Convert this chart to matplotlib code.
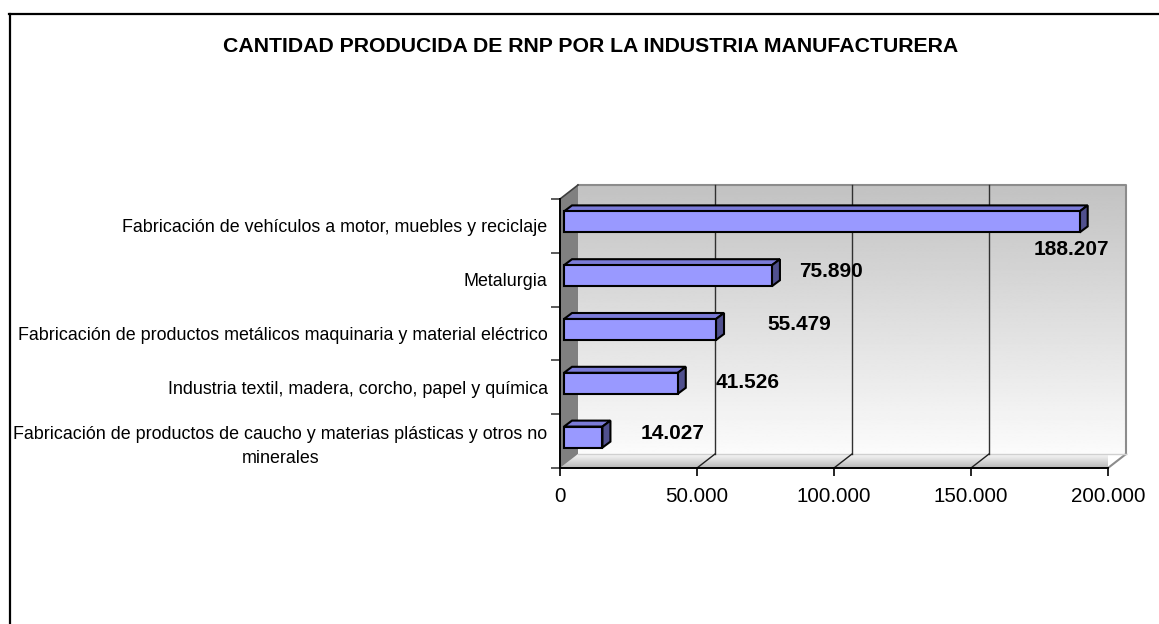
import numpy as np
import matplotlib
matplotlib.use("Agg")
import matplotlib.pyplot as plt
from matplotlib.patches import Polygon, Rectangle
from matplotlib.lines import Line2D

plt.rcParams['font.family'] = ['Liberation Sans', 'DejaVu Sans']

# data
categories = [
    'Fabricación de vehículos a motor, muebles y reciclaje',
    'Metalurgia',
    'Fabricación de productos metálicos maquinaria y material eléctrico',
    'Industria textil, madera, corcho, papel y química',
    'Fabricación de productos de caucho y materias plásticas y otros no\nminerales',
]
values = [188207, 75890, 55479, 41526, 14027]
x_ticks = [0, 50000, 100000, 150000, 200000]
title = 'CANTIDAD PRODUCIDA DE RNP POR LA INDUSTRIA MANUFACTURERA'

# label offsets in pixels (dx, dy up) from the bar end
label_offsets = [(-4, -24), (63, 8), (87, 9), (74, 5), (74, 8)]


def fmt(v):
    return f"{v:,}".replace(',', '.')


W, H, DPI = 1159, 624, 100
fig = plt.figure(figsize=(W / DPI, H / DPI), dpi=DPI)

# front plane of the 3d box, in pixels
left_px, right_px, top_px, bot_px = 560, 1108, 199, 468
ax = fig.add_axes([left_px / W, 1 - bot_px / H,
                   (right_px - left_px) / W, (bot_px - top_px) / H])
XMAX = x_ticks[-1]
n = len(categories)

# pixel -> data conversion
px_x = XMAX / (right_px - left_px)
px_y = n / (bot_px - top_px)
DX, DY = 18 * px_x, 14 * px_y

# back wall, dark at top, light at bottom
wall = np.linspace(0.985, 0.76, 200).reshape(-1, 1)
ax.imshow(wall, extent=(DX, XMAX + DX, DY, n + DY), cmap='gray', vmin=0, vmax=1,
          aspect='auto', origin='lower', clip_on=False, zorder=0, interpolation='bilinear')

# floor
floor = Polygon([(0, 0), (XMAX, 0), (XMAX + DX, DY), (DX, DY)], closed=True,
                facecolor='none', edgecolor='none', clip_on=False)
ax.add_patch(floor)
fgrad = np.linspace(0.72, 0.97, 50).reshape(-1, 1)
fim = ax.imshow(fgrad, extent=(0, XMAX + DX, 0, DY), cmap='gray', vmin=0, vmax=1,
                aspect='auto', origin='lower', zorder=0.5, interpolation='bilinear')
fim.set_clip_path(floor)

ax.set_xlim(0, XMAX)
ax.set_ylim(0, n)

# left wall
ax.add_patch(Polygon([(0, 0), (DX, DY), (DX, n + DY), (0, n)], closed=True,
                     facecolor='#808080', edgecolor='none', clip_on=False, zorder=0.6))

# box edges
edge = dict(color='#8c8c8c', lw=1.5, clip_on=False, zorder=1)
ax.plot([DX, XMAX + DX, XMAX + DX], [n + DY, n + DY, DY], **edge)
ax.plot([XMAX, XMAX + DX], [0, DY], **edge)
ax.plot([0, DX], [n, n + DY], color='#404040', lw=1.2, clip_on=False, zorder=1)
ax.plot([DX, XMAX + DX], [DY, DY], color='#d0d0d0', lw=1, clip_on=False, zorder=1)

# gridlines on wall and floor
for t in x_ticks[1:-1]:
    ax.plot([t + DX, t + DX], [DY, n + DY], color='#303030', lw=1, clip_on=False, zorder=1)
    ax.plot([t, t + DX], [0, DY], color='#202020', lw=1, clip_on=False, zorder=1)

# bars
bh = 21 * px_y
bx, by = 4 * px_x, 4 * px_y
tdx, tdy = 8 * px_x, 6 * px_y
for i, v in enumerate(values):
    yc = n - 0.5 - i
    y0 = yc - bh / 2 + by
    y1 = y0 + bh
    x0, x1 = bx, bx + v
    ax.add_patch(Polygon([(x0, y1), (x1, y1), (x1 + tdx, y1 + tdy), (x0 + tdx, y1 + tdy)],
                         closed=True, facecolor='#7b7bd8', edgecolor='black', lw=1.5,
                         clip_on=False, zorder=3, joinstyle='miter'))
    ax.add_patch(Polygon([(x1, y0), (x1, y1), (x1 + tdx, y1 + tdy), (x1 + tdx, y0 + tdy)],
                         closed=True, facecolor='#50508e', edgecolor='black', lw=1.5,
                         clip_on=False, zorder=3, joinstyle='miter'))
    ax.add_patch(Rectangle((x0, y0), v, bh, facecolor='#9999ff', edgecolor='black',
                           lw=1.5, clip_on=False, zorder=4, joinstyle='miter'))
    odx, ody = label_offsets[i]
    ax.annotate(fmt(v), xy=(v, yc), xytext=(odx, ody), textcoords='offset pixels',
                ha='center', va='center', fontsize=15, fontweight='bold', zorder=5)

# axes
for s in ['top', 'right']:
    ax.spines[s].set_visible(False)
for s in ['bottom', 'left']:
    ax.spines[s].set_color('black')
    ax.spines[s].set_linewidth(1.4)
    ax.spines[s].set_zorder(2)
ax.set_xticks(x_ticks)
ax.set_xticklabels([fmt(t) for t in x_ticks])
ax.tick_params(axis='x', direction='out', length=6, width=1.2, pad=8, labelsize=14.8)
ax.set_yticks(range(n + 1))
ax.set_yticklabels([])
ax.set_yticks([n - 0.5 - i for i in range(n)], minor=True)
ax.set_yticklabels(categories, minor=True, fontsize=12.9, multialignment='center',
                   linespacing=1.55)
ax.tick_params(axis='y', which='major', direction='out', length=6.5, width=1.2, color='#404040')
ax.tick_params(axis='y', which='minor', length=0, pad=9)
ax.set_facecolor('none')

fig.text(0.51, 1 - 47 / H, title, ha='center', va='center', fontsize=15.3, fontweight='bold')

# outer frame (top and left)
fig.add_artist(Line2D([9 / W, 1], [1 - 14 / H, 1 - 14 / H], color='black', lw=1.6))
fig.add_artist(Line2D([10 / W, 10 / W], [0, 1 - 14 / H], color='black', lw=1.6))

fig.savefig('out.png', dpi=DPI)
